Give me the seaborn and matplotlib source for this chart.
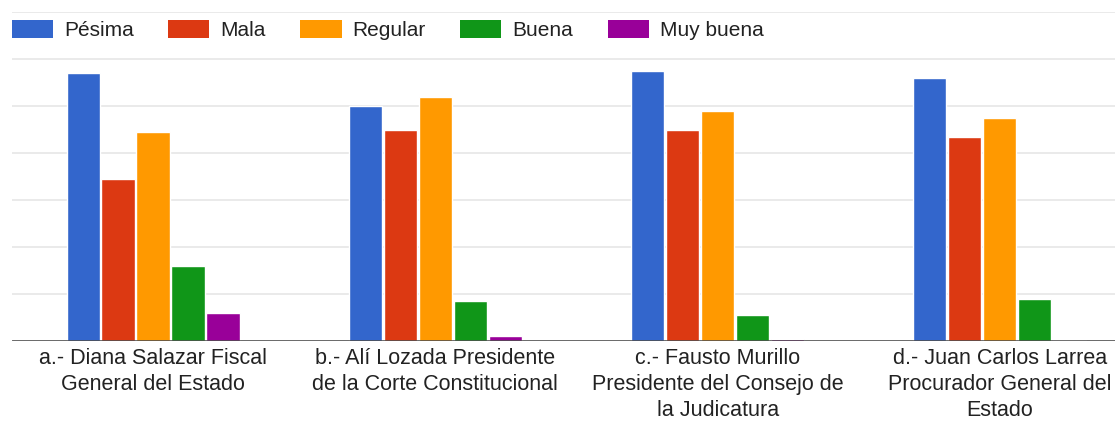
import numpy as np
import pandas as pd
import matplotlib
matplotlib.use("Agg")
import matplotlib.pyplot as plt
import seaborn as sns

# datos (escala de la cuadricula = 20)
candidatos = [
    "a.- Diana Salazar Fiscal\nGeneral del Estado",
    "b.- Alí Lozada Presidente\nde la Corte Constitucional",
    "c.- Fausto Murillo\nPresidente del Consejo de\nla Judicatura",
    "d.- Juan Carlos Larrea\nProcurador General del\nEstado",
]
calificaciones = ["Pésima", "Mala", "Regular", "Buena", "Muy buena"]
pesima = [114, 100, 115, 112]
mala = [69, 90, 90, 87]
regular = [89, 104, 98, 95]
buena = [32, 17, 11, 18]
muy_buena = [12, 2, 1, 0.6]

colores = ["#3366cc", "#dc3912", "#ff9900", "#109618", "#990099"]

series = [pesima, mala, regular, buena, muy_buena]
filas = []
for cal, vals in zip(calificaciones, series):
    for cand, v in zip(candidatos, vals):
        filas.append({"candidato": cand, "calificacion": cal, "valor": v})
df = pd.DataFrame(filas)

sns.set_style("white")
plt.rcParams['font.family'] = ['Liberation Sans', 'DejaVu Sans']

W, H = 1115, 421
fig = plt.figure(figsize=(W / 100, H / 100), dpi=100)
ax = fig.add_axes([12 / W, (H - 341) / H, 1 - 12 / W, (341 - 12) / H])

sns.barplot(data=df, x="candidato", y="valor", hue="calificacion",
            order=candidatos, hue_order=calificaciones, palette=colores,
            saturation=1, width=0.62, gap=0.05, errorbar=None, ax=ax,
            legend=False)

# cuadricula
ax.set_ylim(0, 140)
ax.set_yticks(np.arange(0, 141, 20))
ax.set_yticklabels([])
ax.yaxis.grid(True, color="#e8e8e8", linewidth=1.3)
ax.set_axisbelow(True)
ax.axhline(0, color="#444444", linewidth=1.8, zorder=5)
for s in ax.spines.values():
    s.set_visible(False)
ax.set_xlim(-0.5, 3.408)
ax.set_xlabel("")
ax.set_ylabel("")
ax.tick_params(axis="both", length=0)
ax.tick_params(axis="x", pad=5)
for t in ax.get_xticklabels():
    t.set_fontsize(15.5)
    t.set_color("#222222")
    t.set_linespacing(1.32)

# leyenda arriba
handles = [plt.Rectangle((0, 0), 1, 1, facecolor=c, edgecolor="none") for c in colores]
fig.legend(handles, calificaciones, loc="upper left",
           bbox_to_anchor=(12 / W, 1 - 20 / H), ncol=5, frameon=False,
           fontsize=15, handlelength=1.97, handleheight=0.96,
           handletextpad=0.53, columnspacing=1.66, borderpad=0,
           borderaxespad=0, labelcolor="#222222")

fig.savefig("out.png", dpi=100, facecolor="white")
